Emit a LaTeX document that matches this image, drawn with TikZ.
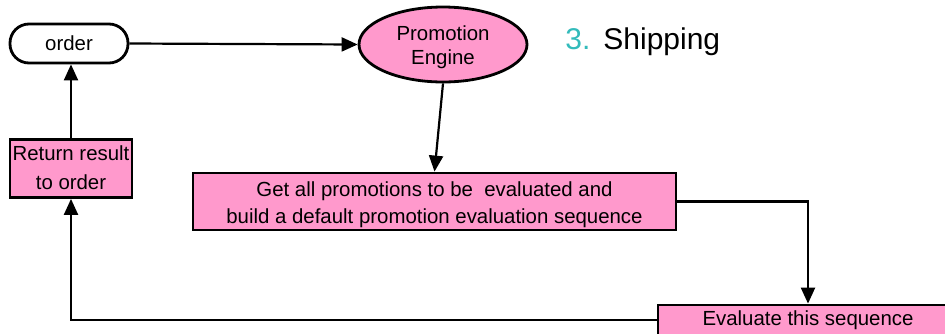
\documentclass[tikz,border=0pt]{standalone}
\usepackage{fontspec}
\setmainfont{Liberation Sans}
\usetikzlibrary{arrows.meta,shapes.geometric}
\definecolor{boxpink}{RGB}{255,153,204}
\definecolor{numteal}{RGB}{51,187,187}
\newcommand{\twolines}[3]{\raisebox{#1}[\height][\depth]{\begin{tabular}{@{}c@{}}#2\\#3\end{tabular}}}
\tikzset{
	stepbox/.style={draw, line width=1.4pt, fill=boxpink, align=center, inner sep=0pt, font=\fontsize{10.2}{13.8}\selectfont},
	flow/.style={line width=1.1pt, -{Triangle[length=8pt,width=7pt]}},
}

\begin{document}
\begin{tikzpicture}[x=0.5pt, y=-0.5pt]
			%%%%% START %%%%%
			
			\useasboundingbox (0, 0) rectangle (945, 333);
			\clip (0, 0) rectangle (945, 333);
			
			\node[draw, line width=1.4pt, rounded corners=9.5pt, minimum width=59pt, minimum height=19.5pt, inner sep=0pt, font=\fontsize{10.2}{12}\selectfont] (order) at (69, 43.5) {order};
			\node[stepbox, ellipse, minimum width=84pt, minimum height=37.5pt, font=\fontsize{10.2}{12}\selectfont] (engine) at (443, 44.5) {\twolines{-1.7pt}{Promotion}{Engine}};
			\node[anchor=west, inner sep=0pt, font=\fontsize{15}{18}\selectfont] (shipping) at (565, 42) {\textcolor{numteal}{3.}\hspace{6.5pt}Shipping};
			
			\node[stepbox, minimum width=241.5pt, minimum height=28.5pt] (getall) at (434.5, 201.5) {\twolines{-1.5pt}{Get all promotions to be\ \ evaluated and}{build a default promotion evaluation sequence}};
			\node[stepbox, minimum width=61pt, minimum height=28.5pt, font=\fontsize{10.2}{14.5}\selectfont] (ret) at (71, 168.5) {\twolines{-0.3pt}{Return result}{to order}};
			\node[stepbox, minimum width=150pt, minimum height=15pt] (evaluate) at (808, 320) {Evaluate this sequence};
			
			\draw[flow] (order.east) -- (engine.west);
			\draw[flow] (engine.south) -- (getall.north);
			\draw[flow] (getall.east) -| (evaluate.north);
			\draw[flow] (evaluate.west) -| (ret.south);
			\draw[flow] (ret.north) -- (ret.north |- order.south);
			
			%%%%% END %%%%%
		\end{tikzpicture}
\end{document}
